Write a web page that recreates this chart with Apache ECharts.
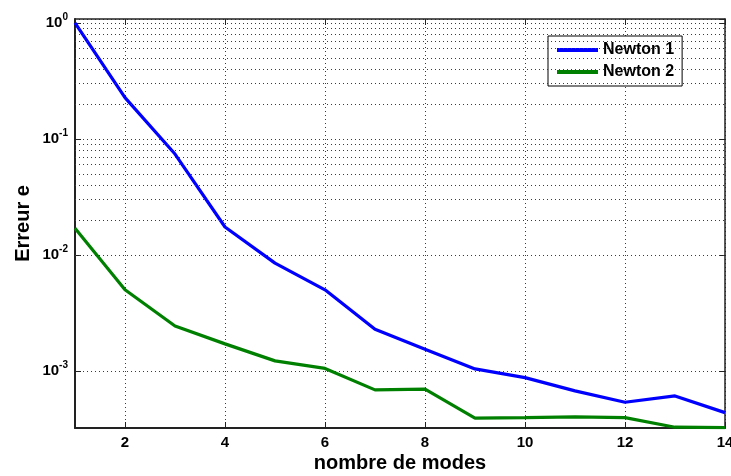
<!DOCTYPE html>
<html>
<head>
<meta charset="utf-8">
<script src="https://cdn.jsdelivr.net/npm/echarts@6/dist/echarts.min.js"></script>
<style>html,body{margin:0;padding:0;background:#fff;}#c{width:731px;height:476px;}</style>
</head>
<body>
<div id="c"></div>
<script>
// Data
const modes = [1, 2, 3, 4, 5, 6, 7, 8, 9, 10, 11, 12, 13, 14];
const newton1 = [1.0, 0.227, 0.074, 0.0174, 0.0085, 0.0050, 0.00229, 0.00154, 0.00104, 0.000875, 0.000673, 0.000537, 0.000609, 0.000437];
const newton2 = [0.0170, 0.0050, 0.00244, 0.00171, 0.00122, 0.00105, 0.000686, 0.000697, 0.000391, 0.000396, 0.000402, 0.000396, 0.000327, 0.000325];
const seriesNames = ['Newton 1', 'Newton 2'];
const xTitle = 'nombre de modes';
const yTitle = 'Erreur e';
const xMin = 1, xMax = 14;
const yMin = 0.000322, yMax = 1.08;

// minor log grid values (m * 10^k)
const minorGrid = [];
for (let k = -4; k <= 0; k++) {
  for (let m = 2; m <= 9; m++) {
    const v = m * Math.pow(10, k);
    if (v > yMin && v < yMax) minorGrid.push(v);
  }
}

const FONT = "'Liberation Sans', Arial, Helvetica, sans-serif";
const gridDot = { color: '#3a3a3a', width: 1, type: [1, 3] };

const chart = echarts.init(document.getElementById('c'), null, { renderer: 'canvas' });
chart.setOption({
  animation: false,
  backgroundColor: '#fff',
  textStyle: { fontFamily: FONT },
  grid: { left: 75, top: 19, right: 6, bottom: 48, containLabel: false, outerBoundsMode: 'none' },
  legend: {
    data: seriesNames,
    orient: 'vertical',
    left: 548, top: 36,
    padding: [6, 8, 6, 9],
    itemGap: 6,
    icon: 'rect',
    itemWidth: 41, itemHeight: 4,
    backgroundColor: '#fff',
    borderColor: '#000', borderWidth: 1, borderRadius: 0,
    textStyle: { fontFamily: FONT, fontSize: 16, fontWeight: 'bold', color: '#000', lineHeight: 16 }
  },
  xAxis: [{
    type: 'value', min: xMin, max: xMax, splitNumber: 7,
    name: xTitle, nameLocation: 'middle', nameGap: 25, nameMoveOverlap: false,
    nameTextStyle: { fontFamily: FONT, fontSize: 20, fontWeight: 'bold', color: '#000' },
    axisLine: { show: true, onZero: false, lineStyle: { color: '#222', width: 2 } },
    axisTick: { show: true, inside: true, length: 6, lineStyle: { color: '#222' } },
    axisLabel: { showMinLabel: false, margin: 7, fontFamily: FONT, fontSize: 15, fontWeight: 'bold', color: '#000' },
    splitLine: { show: true, lineStyle: gridDot }
  }, {
    type: 'value', min: xMin, max: xMax, splitNumber: 7, position: 'top',
    axisLine: { show: true, onZero: false, lineStyle: { color: '#222', width: 1.5 } },
    axisTick: { show: true, inside: true, length: 6, lineStyle: { color: '#222' } },
    axisLabel: { show: false },
    splitLine: { show: false }
  }],
  yAxis: [{
    type: 'log', logBase: 10, min: yMin, max: yMax,
    name: yTitle, nameLocation: 'middle', nameGap: 42, nameMoveOverlap: false,
    nameTextStyle: { fontFamily: FONT, fontSize: 20, fontWeight: 'bold', color: '#000' },
    axisLine: { show: true, onZero: false, lineStyle: { color: '#222', width: 2 } },
    axisTick: { show: true, inside: true, length: 6, lineStyle: { color: '#222' } },
    axisLabel: {
      showMinLabel: false, showMaxLabel: false, margin: 7,
      formatter: function (v) {
        const e = Math.round(Math.log10(v));
        return '{b|10}{s|' + e + '}';
      },
      rich: {
        b: { fontFamily: FONT, fontSize: 15, fontWeight: 'bold', color: '#000' },
        s: { fontFamily: FONT, fontSize: 10, fontWeight: 'bold', color: '#000', padding: [0, 0, 11, 0] }
      }
    },
    splitLine: { show: true, lineStyle: gridDot }
  }, {
    type: 'log', logBase: 10, min: yMin, max: yMax, position: 'right',
    axisLine: { show: true, onZero: false, lineStyle: { color: '#222', width: 1.5 } },
    axisTick: { show: true, inside: true, length: 6, lineStyle: { color: '#222' } },
    axisLabel: { show: false },
    splitLine: { show: false }
  }],
  series: [{
    name: 'minor grid', type: 'line', data: [], silent: true, z: 1,
    markLine: {
      silent: true, symbol: ['none', 'none'], label: { show: false },
      lineStyle: gridDot, animation: false,
      data: minorGrid.map(v => ({ yAxis: v }))
    }
  }, {
    name: seriesNames[0], type: 'line', z: 3,
    data: modes.map((x, i) => [x, newton1[i]]),
    symbol: 'none', showSymbol: false,
    lineStyle: { color: '#0000ff', width: 3.2 },
    itemStyle: { color: '#0000ff' }
  }, {
    name: seriesNames[1], type: 'line', z: 3,
    data: modes.map((x, i) => [x, newton2[i]]),
    symbol: 'none', showSymbol: false,
    lineStyle: { color: '#008000', width: 3.2 },
    itemStyle: { color: '#008000' }
  }]
});
</script>
</body>
</html>
